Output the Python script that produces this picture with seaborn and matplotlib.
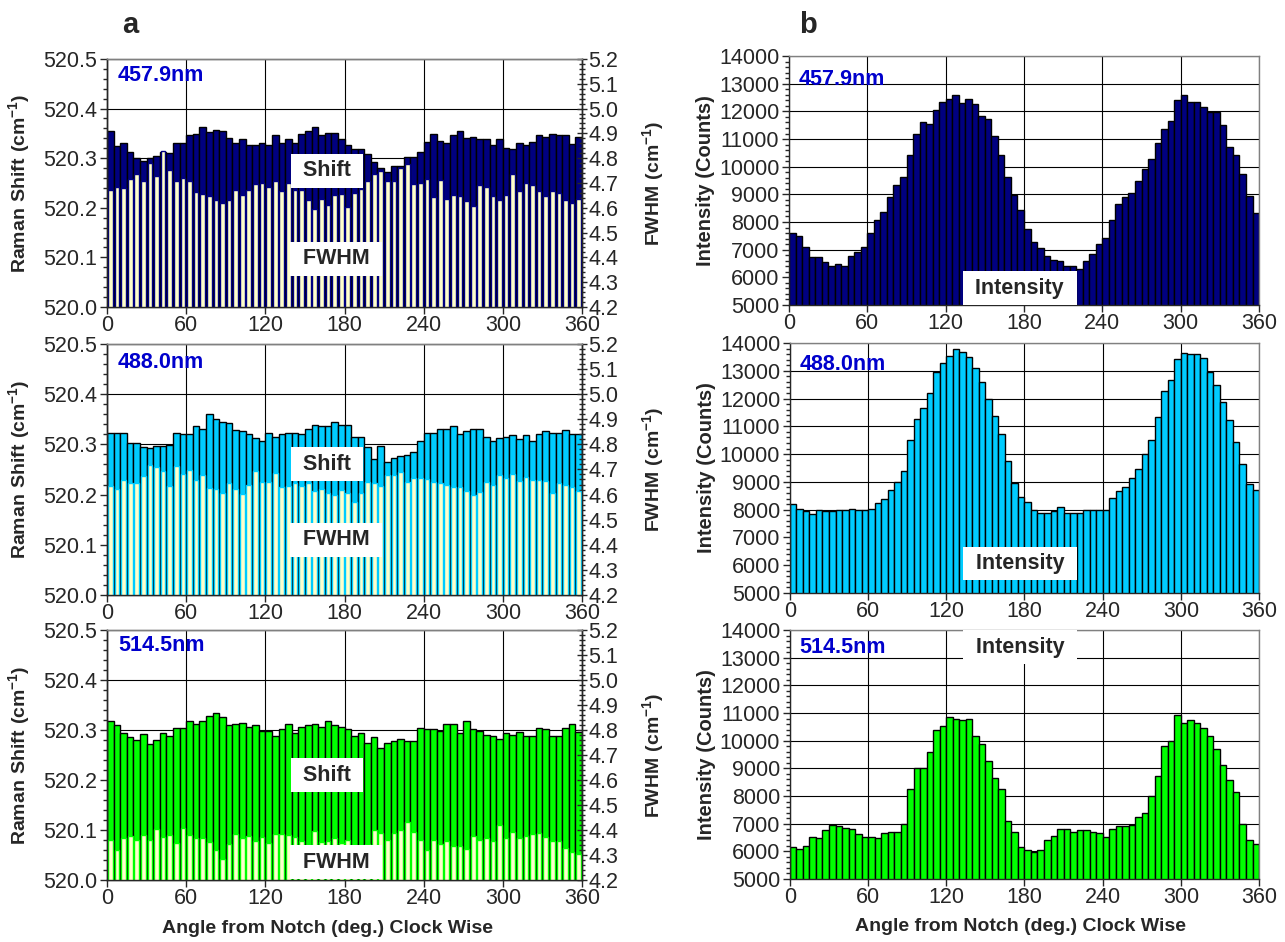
import numpy as np
import matplotlib
matplotlib.use("Agg")
import matplotlib.pyplot as plt
from matplotlib.ticker import MultipleLocator, FormatStrFormatter
import seaborn as sns

# ---- data: 72 angular positions, 5 degree steps ----
angles = np.arange(0, 360, 5)

shift_4579 = [520.354, 520.324, 520.330, 520.313, 520.300, 520.295, 520.300, 520.305, 520.313, 520.310,
              520.330, 520.330, 520.346, 520.348, 520.362, 520.352, 520.356, 520.354, 520.340, 520.330,
              520.338, 520.326, 520.327, 520.330, 520.327, 520.346, 520.330, 520.338, 520.330, 520.348,
              520.354, 520.362, 520.346, 520.351, 520.351, 520.339, 520.327, 520.319, 520.319, 520.308,
              520.292, 520.281, 520.273, 520.284, 520.284, 520.303, 520.303, 520.313, 520.332, 520.348,
              520.335, 520.330, 520.346, 520.354, 520.340, 520.343, 520.338, 520.338, 520.327, 520.338,
              520.321, 520.319, 520.330, 520.327, 520.332, 520.346, 520.343, 520.348, 520.346, 520.346,
              520.328, 520.343]
fwhm_4579 = [4.672, 4.685, 4.679, 4.715, 4.737, 4.710, 4.780, 4.728, 4.827, 4.753,
             4.710, 4.722, 4.706, 4.662, 4.655, 4.647, 4.630, 4.619, 4.630, 4.672,
             4.651, 4.672, 4.694, 4.699, 4.683, 4.710, 4.667, 4.699, 4.672, 4.672,
             4.630, 4.597, 4.635, 4.613, 4.651, 4.656, 4.605, 4.658, 4.674, 4.710,
             4.738, 4.749, 4.706, 4.710, 4.760, 4.776, 4.695, 4.701, 4.717, 4.642,
             4.711, 4.636, 4.652, 4.647, 4.626, 4.609, 4.690, 4.685, 4.647, 4.631,
             4.652, 4.738, 4.668, 4.701, 4.690, 4.668, 4.647, 4.668, 4.658, 4.631,
             4.620, 4.636]
int_4579 = [7600, 7490, 7110, 6740, 6740, 6540, 6400, 6490, 6400, 6770,
            6920, 7110, 7600, 8070, 8370, 8900, 9330, 9620, 10440, 11200,
            11600, 11530, 12060, 12350, 12450, 12600, 12320, 12450, 12260, 11830,
            11740, 11110, 10440, 9620, 8970, 8420, 7740, 7270, 7070, 6780,
            6640, 6590, 6410, 6410, 6310, 6600, 6830, 7210, 7420, 8080,
            8660, 8900, 9040, 9480, 9910, 10290, 10870, 11350, 11640, 12400,
            12600, 12350, 12350, 12170, 11980, 11980, 11500, 10730, 10440, 9720,
            8950, 8320]

shift_4880 = [520.323, 520.323, 520.323, 520.302, 520.302, 520.294, 520.292, 520.297, 520.297, 520.299,
              520.323, 520.321, 520.321, 520.337, 520.331, 520.361, 520.350, 520.345, 520.342, 520.329,
              520.326, 520.321, 520.313, 520.307, 520.323, 520.315, 520.321, 520.323, 520.323, 520.321,
              520.331, 520.339, 520.337, 520.337, 520.345, 520.339, 520.339, 520.314, 520.314, 520.294,
              520.270, 520.297, 520.264, 520.273, 520.276, 520.278, 520.284, 520.307, 520.323, 520.323,
              520.331, 520.331, 520.337, 520.321, 520.326, 520.331, 520.331, 520.315, 520.307, 520.313,
              520.315, 520.318, 520.310, 520.318, 520.307, 520.321, 520.326, 520.323, 520.323, 520.329,
              520.321, 520.321]
fwhm_4880 = [4.634, 4.624, 4.656, 4.645, 4.645, 4.674, 4.719, 4.709, 4.693, 4.634,
             4.714, 4.682, 4.698, 4.656, 4.677, 4.626, 4.621, 4.608, 4.645, 4.624,
             4.602, 4.637, 4.693, 4.648, 4.648, 4.685, 4.629, 4.634, 4.645, 4.634,
             4.645, 4.613, 4.621, 4.608, 4.597, 4.618, 4.605, 4.570, 4.608, 4.648,
             4.645, 4.634, 4.677, 4.677, 4.690, 4.648, 4.666, 4.666, 4.663, 4.648,
             4.645, 4.637, 4.629, 4.632, 4.616, 4.600, 4.610, 4.650, 4.640, 4.677,
             4.666, 4.682, 4.653, 4.671, 4.658, 4.656, 4.653, 4.608, 4.645, 4.640,
             4.632, 4.616]
int_4880 = [8190, 8030, 7950, 7850, 7990, 7950, 7950, 7990, 7990, 8030,
            7990, 7990, 8030, 8240, 8380, 8710, 8990, 9390, 10510, 11280,
            11660, 12190, 12950, 13290, 13530, 13770, 13670, 13480, 13090, 12610,
            12000, 11370, 10730, 9760, 8950, 8470, 8280, 7990, 7890, 7890,
            7940, 8080, 7890, 7890, 7890, 7990, 7990, 7990, 7990, 8420,
            8660, 8810, 9140, 9480, 10010, 10500, 11320, 12270, 12660, 13420,
            13630, 13590, 13590, 13470, 12950, 12470, 11860, 11220, 10450, 9640,
            8920, 8710]

shift_5145 = [520.318, 520.310, 520.295, 520.286, 520.281, 520.293, 520.273, 520.281, 520.295, 520.289,
              520.305, 520.305, 520.318, 520.313, 520.318, 520.329, 520.334, 520.326, 520.310, 520.313,
              520.315, 520.307, 520.310, 520.299, 520.299, 520.289, 520.302, 520.313, 520.294, 520.307,
              520.310, 520.313, 520.307, 520.318, 520.310, 520.307, 520.302, 520.289, 520.294, 520.275,
              520.286, 520.265, 520.275, 520.278, 520.283, 520.278, 520.278, 520.305, 520.302, 520.302,
              520.299, 520.313, 520.313, 520.294, 520.318, 520.302, 520.299, 520.291, 520.289, 520.283,
              520.294, 520.291, 520.297, 520.289, 520.289, 520.305, 520.302, 520.289, 520.289, 520.305,
              520.313, 520.297]
fwhm_5145 = [4.359, 4.319, 4.369, 4.375, 4.359, 4.380, 4.359, 4.404, 4.372, 4.380,
             4.348, 4.409, 4.380, 4.367, 4.367, 4.353, 4.319, 4.284, 4.345, 4.383,
             4.367, 4.377, 4.356, 4.372, 4.348, 4.383, 4.383, 4.380, 4.372, 4.356,
             4.340, 4.396, 4.351, 4.356, 4.367, 4.350, 4.360, 4.330, 4.329, 4.345,
             4.399, 4.388, 4.361, 4.388, 4.399, 4.431, 4.393, 4.361, 4.319, 4.361,
             4.345, 4.356, 4.335, 4.335, 4.324, 4.377, 4.361, 4.367, 4.356, 4.420,
             4.367, 4.393, 4.367, 4.377, 4.383, 4.388, 4.372, 4.356, 4.356, 4.329,
             4.313, 4.303]
int_5145 = [6140, 6080, 6190, 6530, 6470, 6760, 6950, 6900, 6860, 6800,
            6610, 6510, 6510, 6470, 6660, 6710, 6710, 7000, 8260, 9020,
            9020, 9600, 10370, 10520, 10850, 10800, 10750, 10800, 10160, 9880,
            9260, 8640, 8250, 7100, 6710, 6140, 6030, 5990, 6030, 6420,
            6560, 6800, 6800, 6710, 6760, 6760, 6710, 6660, 6510, 6800,
            6900, 6900, 6950, 7240, 7380, 8010, 8730, 9820, 9980, 10940,
            10650, 10750, 10650, 10460, 10160, 9690, 9110, 8580, 8150, 7000,
            6420, 6280]

wavelengths = ["457.9nm", "488.0nm", "514.5nm"]
bar_colors = ["#000080", "#00CCFF", "#00FF00"]
fwhm_fill = "#FFFFCC"
label_blue = "#0000CC"

# ---- style ----
sns.set_style("ticks")
plt.rcParams["font.family"] = ["Liberation Sans", "DejaVu Sans"]
plt.rcParams["mathtext.fontset"] = "custom"
plt.rcParams["mathtext.rm"] = "Liberation Sans"
plt.rcParams["mathtext.bf"] = "Liberation Sans:bold"
plt.rcParams["axes.linewidth"] = 1.0

TICK_FS = 15.5
LABEL_FS = 14
TEXT_FS = 15.5

fig = plt.figure(figsize=(12.85, 9.42), dpi=100)

left_boxes = [(0.0833, 0.6741, 0.3696, 0.2633),
              (0.0833, 0.3684, 0.3696, 0.2665),
              (0.0833, 0.0658, 0.3696, 0.2654)]
right_boxes = [(0.6140, 0.6762, 0.3658, 0.2643),
               (0.6147, 0.3705, 0.3651, 0.2654),
               (0.6147, 0.0669, 0.3651, 0.2643)]

shifts = [shift_4579, shift_4880, shift_5145]
fwhms = [fwhm_4579, fwhm_4880, fwhm_5145]
intens = [int_4579, int_4880, int_5145]

# text positions in axes fraction for the in-plot labels
shift_lbl_y = [0.550, 0.520, 0.420]
fwhm_lbl_y = [0.194, 0.219, 0.072]
wl_left_y = [0.935, 0.926, 0.940]
wl_right_y = [0.904, 0.912, 0.928]
int_lbl_y = [0.068, 0.118, 0.930]

centers = angles + 2.5
box_kw = dict(boxstyle="square,pad=0.3", facecolor="white", edgecolor="none")
gray = "#808080"


def style_x(ax):
    ax.set_xlim(0, 360)
    ax.xaxis.set_major_locator(MultipleLocator(60))
    ax.xaxis.set_major_formatter(FormatStrFormatter("%d"))
    ax.tick_params(axis="x", direction="out", length=5, width=1, labelsize=TICK_FS, pad=1)
    ax.grid(True, axis="both", color="black", linewidth=0.8)
    ax.set_axisbelow(True)
    ax.spines["top"].set_color(gray)


for i in range(3):
    col = bar_colors[i]

    # ---- Raman shift + FWHM panel ----
    ax = fig.add_axes(left_boxes[i])
    sns.barplot(x=centers, y=shifts[i], native_scale=True, width=1.0, color=col,
                saturation=1, edgecolor="black", linewidth=1.0, errorbar=None, ax=ax)
    ax.set_ylim(520.0, 520.5)
    ax.yaxis.set_major_locator(MultipleLocator(0.1))
    ax.yaxis.set_minor_locator(MultipleLocator(0.02))
    ax.yaxis.set_major_formatter(FormatStrFormatter("%.1f"))
    ax.tick_params(axis="y", which="major", direction="out", length=5, width=1, labelsize=TICK_FS, pad=2)
    ax.tick_params(axis="y", which="minor", direction="out", length=3, width=1)
    style_x(ax)
    ax.set_xlabel("")
    ax.set_ylabel(r"$\mathbf{Raman\ Shift\ (cm^{-1})}$", fontsize=LABEL_FS)
    ax.yaxis.set_label_coords(-0.158, 0.5)

    ax2 = ax.twinx()
    sns.barplot(x=centers, y=fwhms[i], native_scale=True, width=0.72, color=fwhm_fill,
                saturation=1, edgecolor=col, linewidth=1.0, errorbar=None, ax=ax2)
    ax2.set_xlim(0, 360)
    ax2.set_ylim(4.2, 5.2)
    ax2.yaxis.set_major_locator(MultipleLocator(0.1))
    ax2.yaxis.set_minor_locator(MultipleLocator(0.02))
    ax2.yaxis.set_major_formatter(FormatStrFormatter("%.1f"))
    ax2.tick_params(axis="y", which="major", direction="inout", length=7, width=1, labelsize=TICK_FS, pad=1)
    ax2.tick_params(axis="y", which="minor", direction="inout", length=4, width=1)
    ax2.spines["top"].set_color(gray)
    ax2.set_ylabel(r"$\mathbf{FWHM\ (cm^{-1})}$", fontsize=LABEL_FS)
    ax2.yaxis.set_label_coords(1.122, 0.5)
    ax2.set_xlabel("")

    ax2.text(0.023, wl_left_y[i], wavelengths[i], transform=ax2.transAxes, color=label_blue,
             fontsize=TEXT_FS, fontweight="bold", ha="left", va="center", zorder=10)
    ax2.text(0.463, shift_lbl_y[i], " Shift ", transform=ax2.transAxes, fontsize=TEXT_FS,
             fontweight="bold", ha="center", va="center", bbox=box_kw, zorder=10)
    ax2.text(0.482, fwhm_lbl_y[i], " FWHM ", transform=ax2.transAxes, fontsize=TEXT_FS,
             fontweight="bold", ha="center", va="center", bbox=box_kw, zorder=10)

    # ---- intensity panel ----
    bx = fig.add_axes(right_boxes[i])
    sns.barplot(x=centers, y=intens[i], native_scale=True, width=1.0, color=col,
                saturation=1, edgecolor="black", linewidth=1.0, errorbar=None, ax=bx)
    bx.set_ylim(5000, 14000)
    bx.yaxis.set_major_locator(MultipleLocator(1000))
    bx.yaxis.set_minor_locator(MultipleLocator(200))
    bx.tick_params(axis="y", which="major", direction="out", length=5, width=1, labelsize=TICK_FS, pad=2)
    bx.tick_params(axis="y", which="minor", direction="out", length=3, width=1)
    style_x(bx)
    bx.spines["right"].set_color(gray)
    bx.set_xlabel("")
    bx.set_ylabel("Intensity (Counts)", fontsize=LABEL_FS + 0.5, fontweight="bold")
    bx.yaxis.set_label_coords(-0.157, 0.5)
    bx.text(0.021, wl_right_y[i], wavelengths[i], transform=bx.transAxes, color=label_blue,
            fontsize=TEXT_FS, fontweight="bold", ha="left", va="center", zorder=10)
    bx.text(0.491, int_lbl_y[i], " Intensity ", transform=bx.transAxes, fontsize=TEXT_FS,
            fontweight="bold", ha="center", va="center", bbox=box_kw, zorder=10)

    if i == 2:
        ax.set_xlabel("Angle from Notch (deg.) Clock Wise", fontsize=LABEL_FS, fontweight="bold")
        ax.xaxis.set_label_coords(0.464, -0.158)
        bx.set_xlabel("Angle from Notch (deg.) Clock Wise", fontsize=LABEL_FS, fontweight="bold")
        bx.xaxis.set_label_coords(0.491, -0.158)

fig.text(130 / 1285, 1 - 25 / 942, "a", fontsize=21, fontweight="bold", ha="center", va="center")
fig.text(808 / 1285, 1 - 25 / 942, "b", fontsize=21, fontweight="bold", ha="center", va="center")

fig.savefig("out.png", dpi=100, facecolor="white")
